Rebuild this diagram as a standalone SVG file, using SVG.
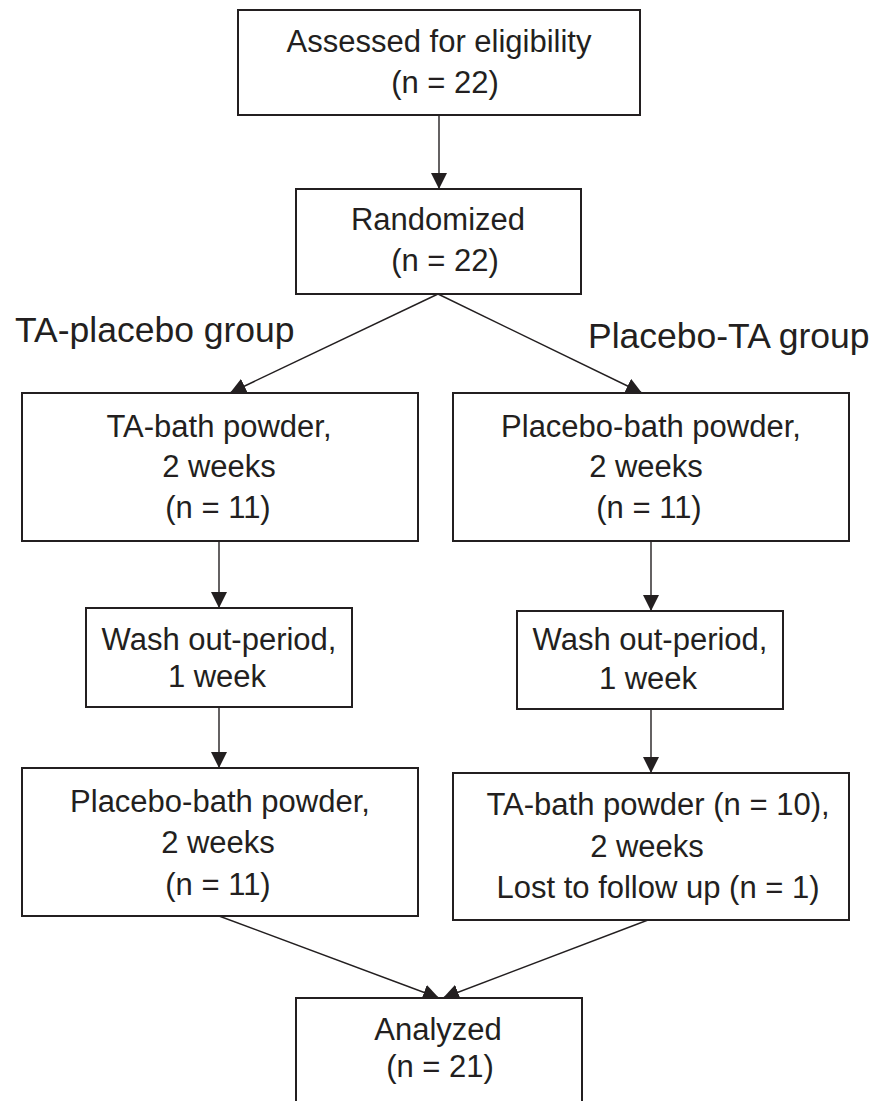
<svg xmlns="http://www.w3.org/2000/svg" width="888" height="1101" viewBox="0 0 888 1101">
<style>
.box{fill:#fff;stroke:#231f20;stroke-width:2}
.t{font-family:"Liberation Sans",Arial,sans-serif;font-size:31px;fill:#231f20;text-anchor:middle}
.g{font-family:"Liberation Sans",Arial,sans-serif;font-size:35.5px;fill:#231f20}
.c{fill:none;stroke:#231f20;stroke-width:1.4}
</style>
<defs>
<marker id="ah" markerUnits="userSpaceOnUse" markerWidth="16" markerHeight="16" refX="16" refY="8" orient="auto" viewBox="0 0 16 16">
<path d="M0,0 L16,8 L0,16 z" fill="#231f20"/>
</marker>
</defs>
<rect width="888" height="1101" fill="#fff"/>
<g id="connectors">
<line class="c" x1="439" y1="115" x2="439" y2="189" marker-end="url(#ah)"/>
<line class="c" x1="438" y1="294" x2="230" y2="393" marker-end="url(#ah)"/>
<line class="c" x1="438" y1="294" x2="642" y2="393" marker-end="url(#ah)"/>
<line class="c" x1="219" y1="541" x2="219" y2="608" marker-end="url(#ah)"/>
<line class="c" x1="651" y1="541" x2="651" y2="611" marker-end="url(#ah)"/>
<line class="c" x1="219" y1="707" x2="219" y2="768" marker-end="url(#ah)"/>
<line class="c" x1="651" y1="709" x2="651" y2="773" marker-end="url(#ah)"/>
<line class="c" x1="219" y1="916" x2="439" y2="998" marker-end="url(#ah)"/>
<line class="c" x1="648" y1="920" x2="443" y2="998" marker-end="url(#ah)"/>
</g>
<g id="label-left"><text class="g" x="15" y="342">TA-placebo group</text></g>
<g id="label-right"><text class="g" x="588" y="348">Placebo-TA group</text></g>
<g id="assessed">
<rect class="box" x="238" y="10" width="402" height="105"/>
<text class="t" x="439" y="52">Assessed for eligibility</text>
<text class="t" x="445" y="93">(n = 22)</text>
</g>
<g id="randomized">
<rect class="box" x="296" y="189" width="285" height="105"/>
<text class="t" x="438" y="230">Randomized</text>
<text class="t" x="445" y="271">(n = 22)</text>
</g>
<g id="ta-bath-1">
<rect class="box" x="22" y="393" width="396" height="148"/>
<text class="t" x="219" y="437">TA-bath powder,</text>
<text class="t" x="219" y="477">2 weeks</text>
<text class="t" x="218" y="518">(n = 11)</text>
</g>
<g id="placebo-bath-1">
<rect class="box" x="453" y="393" width="396" height="148"/>
<text class="t" x="651" y="437">Placebo-bath powder,</text>
<text class="t" x="646" y="477">2 weeks</text>
<text class="t" x="649" y="518">(n = 11)</text>
</g>
<g id="washout-left">
<rect class="box" x="86" y="608" width="266" height="99"/>
<text class="t" x="219" y="650">Wash out-period,</text>
<text class="t" x="217" y="687">1 week</text>
</g>
<g id="washout-right">
<rect class="box" x="517" y="611" width="266" height="98"/>
<text class="t" x="650" y="650">Wash out-period,</text>
<text class="t" x="648" y="689">1 week</text>
</g>
<g id="placebo-bath-2">
<rect class="box" x="22" y="768" width="396" height="148"/>
<text class="t" x="220" y="812">Placebo-bath powder,</text>
<text class="t" x="218" y="853">2 weeks</text>
<text class="t" x="218" y="895">(n = 11)</text>
</g>
<g id="ta-bath-2">
<rect class="box" x="453" y="773" width="396" height="147"/>
<text class="t" x="658" y="815">TA-bath powder (n = 10),</text>
<text class="t" x="647" y="857">2 weeks</text>
<text class="t" x="658" y="898">Lost to follow up (n = 1)</text>
</g>
<g id="analyzed">
<rect class="box" x="296" y="998" width="286" height="150"/>
<text class="t" x="438" y="1040">Analyzed</text>
<text class="t" x="440" y="1077">(n = 21)</text>
</g>
</svg>
